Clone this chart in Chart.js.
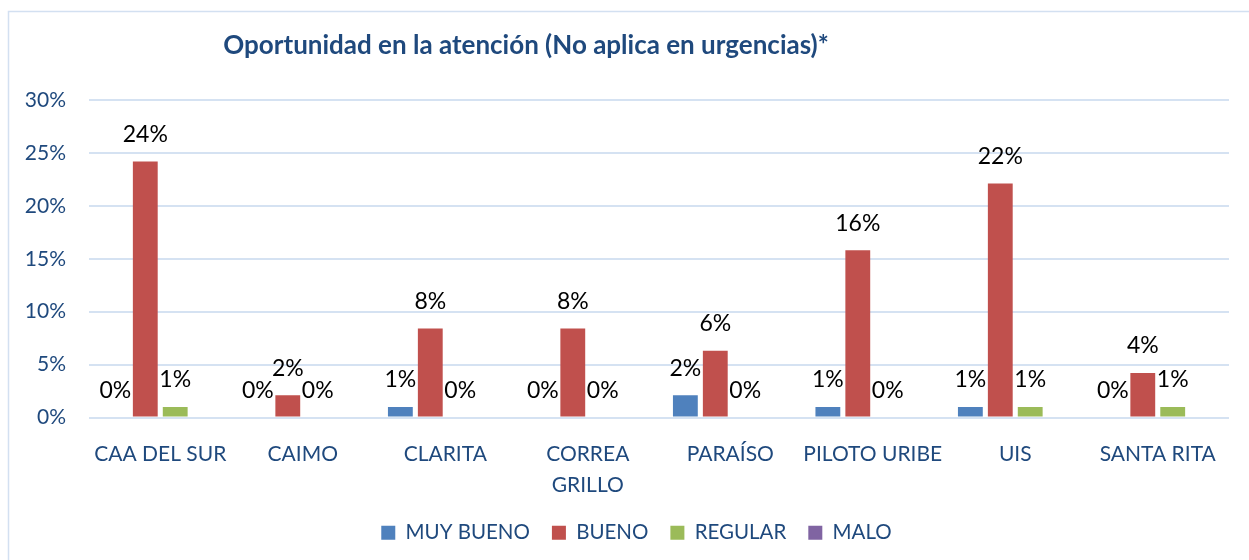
<!DOCTYPE html>
<html>
<head>
<meta charset="utf-8">
<script src="https://cdn.jsdelivr.net/npm/chart.js@4.4.0/dist/chart.umd.min.js"></script>
<style>
  html, body { margin: 0; padding: 0; background: #fff; }
  #wrap { width: 1249px; height: 560px; position: relative; }
</style>
</head>
<body>
<div id="wrap"><canvas id="grafico"></canvas></div>
<script>
// datos
const categorias = ['CAA DEL SUR', 'CAIMO', 'CLARITA', ['CORREA', 'GRILLO'], 'PARAÍSO', 'PILOTO URIBE', 'UIS', 'SANTA RITA'];
const muyBueno = [0, 0, 1.0, 0, 2.1, 1.0, 1.0, 0];
const bueno    = [24.2, 2.1, 8.4, 8.4, 6.3, 15.8, 22.1, 4.2];
const regular  = [1.0, 0, 0, 0, 0, 0, 1.0, 1.0];
const malo     = [0, 0, 0, 0, 0, 0, 0, 0];
const ticksY   = [0, 5, 10, 15, 20, 25, 30];

const titulo = 'Oportunidad en la atención (No aplica en urgencias)*';
const azulTexto = '#1F497D';
const fuente = 'Lato, "Open Sans", sans-serif';

// marco, título y etiquetas de valor
const decoracion = {
    id: 'decoracion',
    afterLayout(chart) {
        // la leyenda del original está algo corrida a la derecha
        chart.legend.left += 22;
        chart.legend.right += 22;
    },
    beforeDraw(chart) {
        const c = chart.ctx;
        c.save();
        c.fillStyle = '#fff';
        c.fillRect(0, 0, chart.width, chart.height);
        c.strokeStyle = '#D3E0F1';
        c.lineWidth = 1.5;
        c.strokeRect(8.5, 11.5, chart.width + 20, chart.height + 20);
        c.fillStyle = azulTexto;
        c.font = 'bold 26px ' + fuente;
        c.textAlign = 'center';
        c.textBaseline = 'middle';
        c.fillText(titulo, 526, 46);
        c.restore();
    },
    afterDatasetsDraw(chart) {
        const c = chart.ctx;
        c.save();
        c.font = '23px ' + fuente;
        c.fillStyle = '#000';
        c.textAlign = 'center';
        c.textBaseline = 'middle';
        [0, 1, 2].forEach(i => {
            const meta = chart.getDatasetMeta(i);
            meta.data.forEach((bar, j) => {
                const v = chart.data.datasets[i].data[j];
                c.fillText(Math.round(v) + '%', bar.x, bar.y - 27);
            });
        });
        c.restore();
    }
};

new Chart(document.getElementById('grafico'), {
    type: 'bar',
    data: {
        labels: categorias,
        datasets: [
            { label: 'MUY BUENO', data: muyBueno, backgroundColor: '#4F81BD' },
            { label: 'BUENO', data: bueno, backgroundColor: '#C0504D' },
            { label: 'REGULAR', data: regular, backgroundColor: '#9BBB59' },
            { label: 'MALO', data: malo, backgroundColor: '#8064A2' }
        ]
    },
    options: {
        responsive: true,
        maintainAspectRatio: false,
        animation: false,
        datasets: { bar: { categoryPercentage: 0.84, barPercentage: 0.83 } },
        layout: { padding: { left: 0, right: 20, top: 100, bottom: 7 } },
        plugins: {
            title: { display: false },
            tooltip: { enabled: false },
            legend: {
                position: 'bottom',
                labels: {
                    boxWidth: 14, boxHeight: 14, padding: 22,
                    color: azulTexto,
                    font: { family: fuente, size: 20.5 }
                }
            }
        },
        scales: {
            x: {
                grid: { display: false },
                border: { display: false },
                ticks: {
                    color: azulTexto, padding: 14, maxRotation: 0, autoSkip: false,
                    font: { family: fuente, size: 21, lineHeight: 1.45 }
                },
                afterFit(s) { s.height = 83; }
            },
            y: {
                min: 0, max: 30,
                afterBuildTicks(s) { s.ticks = ticksY.map(v => ({ value: v })); },
                grid: { color: '#D5E2F2', lineWidth: 2, drawTicks: false },
                border: { display: false },
                ticks: {
                    color: azulTexto, padding: 23,
                    font: { family: fuente, size: 21 },
                    callback: v => v + '%'
                },
                afterFit(s) { s.width = 89; }
            }
        }
    },
    plugins: [decoracion]
});
</script>
</body>
</html>
